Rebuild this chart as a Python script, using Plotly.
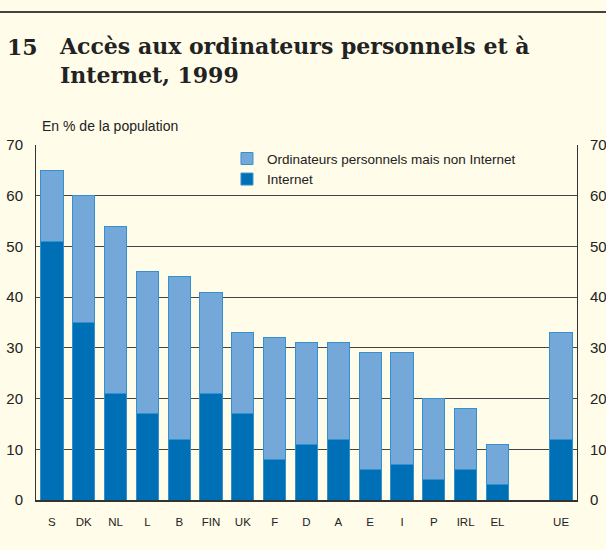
import plotly.graph_objects as go

countries = ["S", "DK", "NL", "L", "B", "FIN", "UK", "F", "D", "A", "E", "I", "P", "IRL", "EL", "UE"]
total_pc = [65, 60, 54, 45, 44, 41, 33, 32, 31, 31, 29, 29, 20, 18, 11, 33]
internet = [51, 35, 21, 17, 12, 21, 17, 8, 11, 12, 6, 7, 4, 6, 3, 12]
pc_no_internet = [t - i for t, i in zip(total_pc, internet)]

# positions: leave one empty slot before the EU aggregate
xpos = list(range(len(countries) - 1)) + [len(countries)]

BG = "#FFFCE9"
DARK = "#0070B6"
LIGHT = "#74A8D8"
EDGE = "#3590D0"
TXT = "#222222"

fig = go.Figure()
fig.add_trace(go.Bar(x=xpos, y=internet, name="Internet",
                     marker=dict(color=DARK, line=dict(color=EDGE, width=1)), width=0.7))
fig.add_trace(go.Bar(x=xpos, y=pc_no_internet, name="Ordinateurs personnels mais non Internet",
                     marker=dict(color=LIGHT, line=dict(color=EDGE, width=1)), width=0.7))

fig.update_layout(
    barmode="stack",
    width=606, height=550,
    paper_bgcolor=BG, plot_bgcolor=BG,
    margin=dict(l=36, r=29, t=145, b=50, autoexpand=False),
    font=dict(family="Liberation Sans, Arial, sans-serif", color=TXT),
    showlegend=True,
    legend=dict(x=0.353, y=1.005, xanchor="left", yanchor="top", traceorder="reversed",
                bgcolor="rgba(0,0,0,0)", font=dict(size=13.5, color=TXT),
                itemwidth=30, tracegroupgap=0),
    xaxis=dict(range=[-0.5, len(countries) + 0.5], tickmode="array", tickvals=xpos, ticktext=countries,
               showgrid=False, zeroline=False, showline=True, linecolor="#333333", linewidth=1.5,
               ticks="", tickfont=dict(size=11.5, color=TXT), ticklabelstandoff=10, automargin=False),
    yaxis=dict(range=[0, 70], dtick=10, showgrid=True, gridcolor="#444444", gridwidth=1,
               zeroline=False, showline=True, linecolor="#333333", linewidth=1, ticks="",
               tickfont=dict(size=15, color=TXT), ticklabelstandoff=9, automargin=False),
    yaxis2=dict(range=[0, 70], dtick=10, overlaying="y", side="right", anchor="x",
                showgrid=False, zeroline=False, showline=True, linecolor="#333333", linewidth=1,
                ticks="", tickfont=dict(size=15, color=TXT), ticklabelstandoff=9, automargin=False),
    shapes=[dict(type="line", xref="paper", yref="paper", x0=-0.1, x1=1.1, y0=1.3746, y1=1.3746,
                 line=dict(color="#444444", width=2))],
    annotations=[
        dict(text="<b>15</b>", xref="paper", yref="paper", x=-0.058, y=1.276, xanchor="left", yanchor="middle",
             showarrow=False, font=dict(family="DejaVu Serif, serif", size=22, color=TXT)),
        dict(text="<b>Accès aux ordinateurs personnels et à<br>Internet, 1999</b>", xref="paper", yref="paper",
             x=0.0388, y=1.238, xanchor="left", yanchor="middle", align="left", showarrow=False,
             font=dict(family="DejaVu Serif, serif", size=22, color=TXT)),
        dict(text="En % de la population", xref="paper", yref="paper", x=0.007, y=1.0, xanchor="left",
             yanchor="bottom", yshift=9, showarrow=False, font=dict(size=14, color=TXT)),
    ],
)
# attach an invisible trace so the right axis is drawn
fig.add_trace(go.Scatter(x=[xpos[0]], y=[0], yaxis="y2", mode="markers", marker=dict(opacity=0),
                         showlegend=False, hoverinfo="skip"))
fig.write_html("out.html", config={"displayModeBar": False},
               post_script="document.body.style.margin='0';document.body.style.padding='0';"
                           "document.body.style.background='" + BG + "';")
